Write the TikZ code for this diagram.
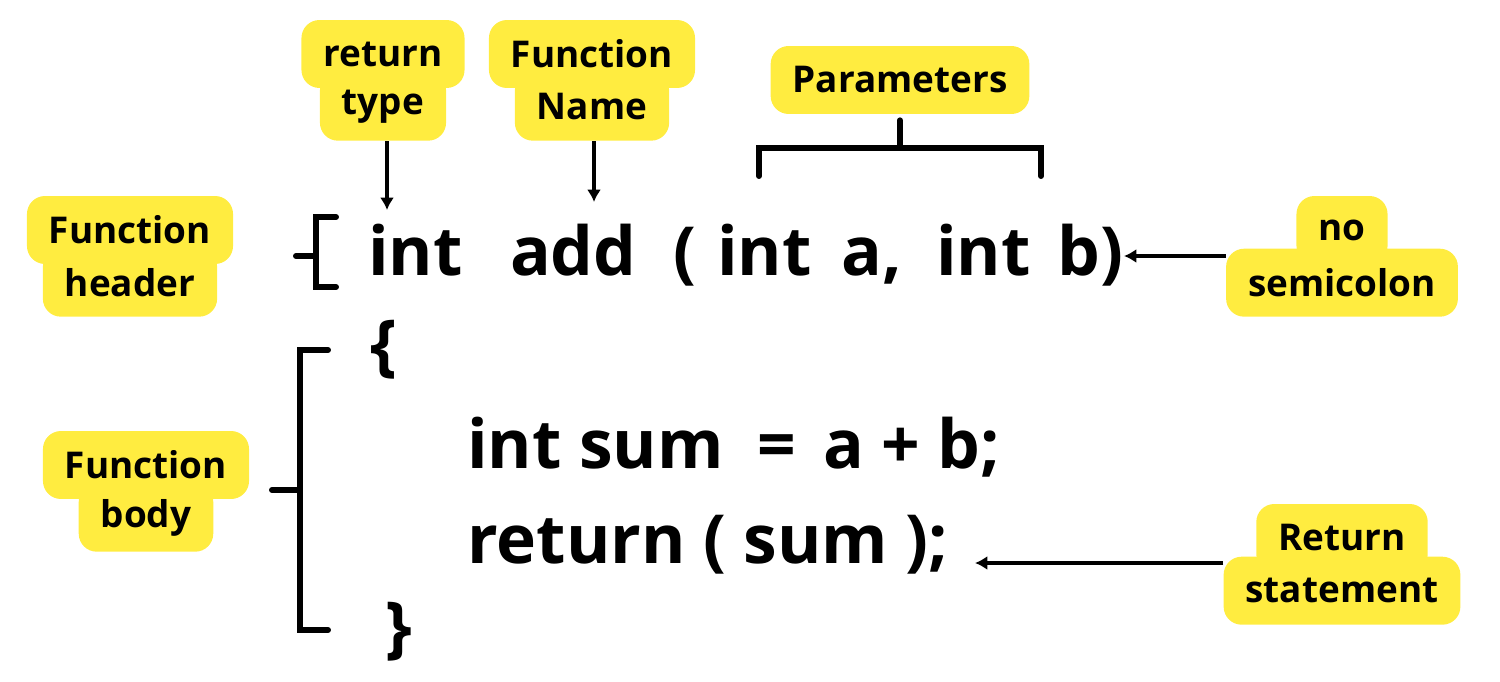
\documentclass[tikz,border=0pt]{standalone}
\usepackage{fontspec}
\setmainfont{Open Sans}
\usetikzlibrary{shapes,arrows.meta}
\usetikzlibrary{positioning}
\definecolor{hl}{HTML}{FFEC40}
\tikzstyle{tag} = [rectangle, fill=hl, rounded corners=0.36cm, inner xsep=0.44cm,
    inner ysep=0pt, minimum height=1.36cm, font=\fontsize{21}{25}\selectfont\bfseries]
\tikzstyle{tagline} = [tag, below=-0.32cm of #1]
\tikzstyle{code} = [anchor=base west, inner sep=0pt, font=\fontsize{38.5}{46}\selectfont\bfseries]
\tikzstyle{conn} = [draw, line width=1.9pt, -{Latex[length=7pt,width=8pt]}]
\tikzstyle{brace} = [draw, line width=3.4pt, line cap=round]

\begin{document}
\begin{tikzpicture}[x=0.02cm, y=-0.02cm]
    \useasboundingbox (0,0) rectangle (1500,682);

    % Place labels
    \node [tag] (rt1) at (383,54) {return};
    \node [tagline=rt1] (rt2) {type};
    \node [tag] (fn1) at (592,54) {Function};
    \node [tagline=fn1] (fn2) {Name};
    \node [tag] (par) at (900,80) {Parameters};
    \node [tag] (fh1) at (130,230) {Function};
    \node [tagline=fh1] (fh2) {header};
    \node [tag] (fb1) at (146,465) {Function};
    \node [tagline=fb1] (fb2) {body};
    \node [tag] (ns1) at (1342,230) {no};
    \node [tagline=ns1] (ns2) {semicolon};
    \node [tag] (rs1) at (1342,538) {Return};
    \node [tagline=rs1] (rs2) {statement};

    % Place code
    \node [code] (hdr) at (368,275) {int\hspace{0.7em}add\hspace{0.55em}(\hspace{0.3em}int\hspace{0.45em}a,\hspace{0.5em}int\hspace{0.4em}b)};
    \node [code] (open) at (370,368) {\{};
    \node [code] (sum) at (467,468) {int sum\hspace{0.5em}=\hspace{0.4em}a + b;};
    \node [code] (ret) at (467,563) {return ( sum );};
    \node [code] (close) at (385,650) {\}};

    % Arrow ends
    \coordinate (rtend) at (387,210);
    \coordinate (fnend) at (594,202);
    \coordinate (nsend) at (1124,256);
    \coordinate (rsend) at (975,563);

    % Draw edges
    \path [conn] (rt2.south -| rtend) -- (rtend);
    \path [conn] (fn2.south -| fnend) -- (fnend);
    \path [conn] (ns2.west |- nsend) -- (nsend);
    \path [conn] (rs2.west |- rsend) -- (rsend);

    % Brackets
    \path [brace] (par.south) ++(0,6) -- (900,148);
    \path [brace] (759,176) -- (759,148) -- (1041,148) -- (1041,176);
    \path [brace] (336,217) -- (316,217) -- (316,287) -- (336,287);
    \path [brace] (296,256) -- (316,256);
    \path [brace] (328,350) -- (300,350) -- (300,630) -- (328,630);
    \path [brace] (272,490) -- (300,490);
\end{tikzpicture}
\end{document}
